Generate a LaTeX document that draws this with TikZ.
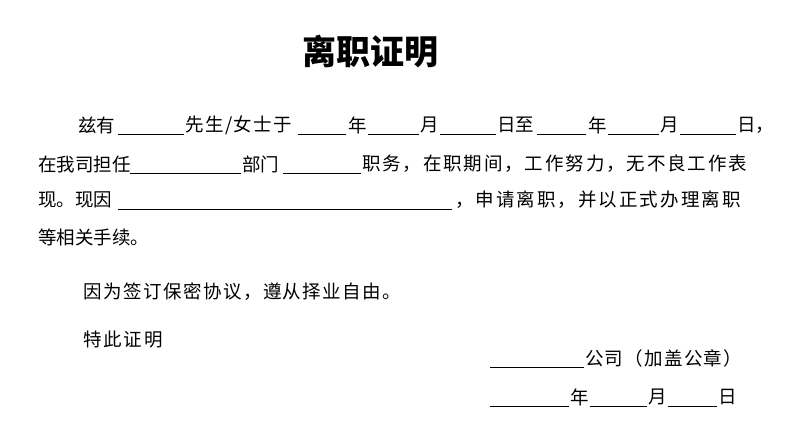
\documentclass[tikz,border=0pt]{standalone}
\usepackage{fontspec}
\newfontfamily\cjk{Noto Sans CJK SC}
\begin{document}
\begin{tikzpicture}[x=1pt,y=-1pt,
  t/.style={anchor=west,inner sep=0pt,font=\cjk\fontsize{18.5}{20}\selectfont},
  ul/.style={line width=0.8pt}]
\useasboundingbox[fill=white] (0,0) rectangle (807,437);
\node[inner sep=0pt,font=\cjk\bfseries\fontsize{34}{38}\selectfont] (title) at (370,52) {离职证明};
% line 1
\node[t] (a1) at (78,125) {兹有};
\draw[ul] (118,134) -- (184,134);
\node[t] (a2) at (185,125) {\addfontfeature{LetterSpace=8}先生/女士于};
\draw[ul] (298,134) -- (346,134);
\node[t] (a3) at (348,125) {年};
\draw[ul] (368,134) -- (419,134);
\node[t] (a4) at (420,125) {月};
\draw[ul] (440,134) -- (496,134);
\node[t] (a5) at (497,125) {日至};
\draw[ul] (537,134) -- (586,134);
\node[t] (a6) at (588,125) {年};
\draw[ul] (608,134) -- (659,134);
\node[t] (a7) at (660,125) {月};
\draw[ul] (680,134) -- (736,134);
\node[t] (a8) at (737,125) {日，};
% line 2
\node[t] (b1) at (38,164) {在我司担任};
\draw[ul] (130,173) -- (241,173);
\node[t] (b2) at (242,164) {部门};
\draw[ul] (283,173) -- (361,173);
\node[t] (b3) at (362,164) {\addfontfeature{LetterSpace=10}职务，在职期间，工作努力，无不良工作表};
% line 3
\node[t] (c1) at (38,200) {现。现因};
\draw[ul] (118,209) -- (452,209);
\node[t] (c2) at (455,200) {\addfontfeature{LetterSpace=11}，申请离职，并以正式办理离职};
% line 4
\node[t] (d1) at (38,237) {等相关手续。};
\node[t] (e1) at (83,292) {\addfontfeature{LetterSpace=8}因为签订保密协议，遵从择业自由。};
\node[t] (f1) at (83,340) {\addfontfeature{LetterSpace=10}特此证明};
% signature
\draw[ul] (490,367) -- (584,367);
\node[t] (g1) at (585,358) {\addfontfeature{LetterSpace=7}公司（加盖公章）};
\draw[ul] (490,406) -- (569,406);
\node[t] (h1) at (570,397) {年};
\draw[ul] (590,406) -- (647,406);
\node[t] (h2) at (648,397) {月};
\draw[ul] (668,406) -- (717,406);
\node[t] (h3) at (718,397) {日};
\end{tikzpicture}
\end{document}
